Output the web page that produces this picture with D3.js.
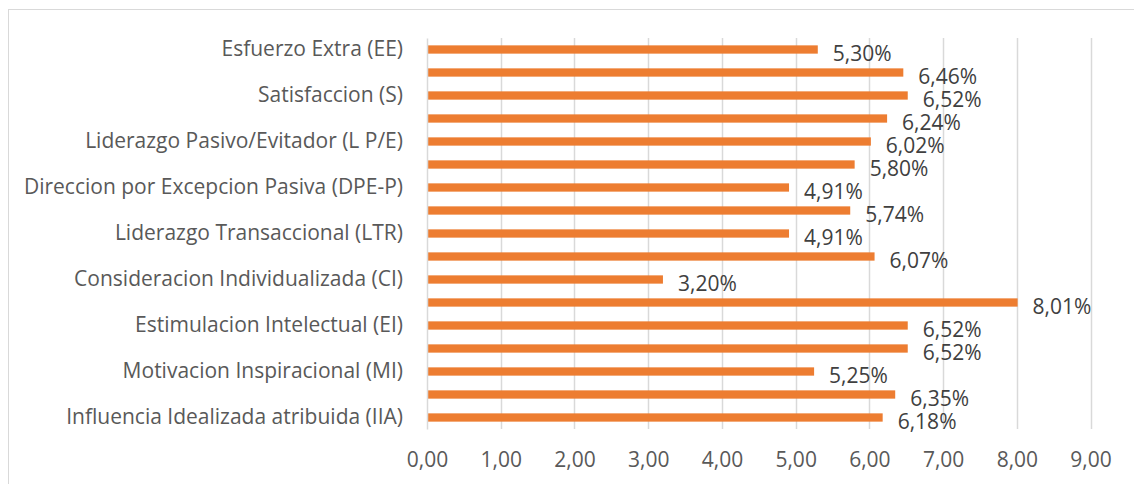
<!DOCTYPE html>
<html>
<head>
<meta charset="utf-8">
<script src="https://cdn.jsdelivr.net/npm/d3@7"></script>
<style>
  html, body { margin: 0; padding: 0; background: #fff; }
  svg { display: block; }
</style>
</head>
<body>
<svg id="chart" width="1134" height="484"></svg>
<script>
// Dimensiones del cuestionario, de arriba hacia abajo
const categories = [
  "Esfuerzo Extra (EE)",
  "Efectividad (EF)",
  "Satisfaccion (S)",
  "Laissez Faire (LF)",
  "Liderazgo Pasivo/Evitador (L P/E)",
  "Liderazgo Pasivo (LP)",
  "Direccion por Excepcion Pasiva (DPE-P)",
  "Direccion por Excepcion Activa (DPE-A)",
  "Liderazgo Transaccional (LTR)",
  "Recompensa Contingente (RC)",
  "Consideracion Individualizada (CI)",
  "Liderazgo Transformacional (LTF)",
  "Estimulacion Intelectual (EI)",
  "Tolerancia Psicologica (TP)",
  "Motivacion Inspiracional (MI)",
  "Influencia Idealizada conducta (IIC)",
  "Influencia Idealizada atribuida (IIA)"
];
const values = [5.30, 6.46, 6.52, 6.24, 6.02, 5.80, 4.91, 5.74, 4.91, 6.07, 3.20, 8.01, 6.52, 6.52, 5.25, 6.35, 6.18];
const xTicks = [0, 1, 2, 3, 4, 5, 6, 7, 8, 9];

const locale = d3.formatLocale({ decimal: ",", thousands: ".", grouping: [3], currency: ["", "€"] });
const fmtTick = locale.format(".2f");
const fmtValue = d => locale.format(".2f")(d) + "%";

const svg = d3.select("#chart");
const font = "'Open Sans', 'Noto Sans', sans-serif";
const fontSize = "21px";

// marco del gráfico
svg.append("rect")
  .attr("x", 8.5).attr("y", 9.5)
  .attr("width", 1200).attr("height", 600)
  .attr("fill", "#fff").attr("stroke", "#d9d9d9").attr("stroke-width", 1);

const plot = { left: 427, right: 1090.6, top: 38, bottom: 429 };

const x = d3.scaleLinear().domain([0, 9]).range([plot.left, plot.right]);
const y = d3.scaleBand().domain(categories).range([plot.top, plot.bottom]).paddingInner(0.64).paddingOuter(0.32);

// líneas de cuadrícula verticales
svg.append("g")
  .selectAll("line")
  .data(xTicks.filter(d => d > 0))
  .join("line")
  .attr("x1", d => Math.round(x(d)) + 0.5).attr("x2", d => Math.round(x(d)) + 0.5)
  .attr("y1", plot.top).attr("y2", plot.bottom)
  .attr("stroke", "#d9d9d9").attr("stroke-width", 1.5);

// eje horizontal (solo etiquetas)
const xAxis = svg.append("g")
  .attr("transform", `translate(0,${plot.bottom})`)
  .call(d3.axisBottom(x).tickValues(xTicks).tickFormat(fmtTick).tickSize(0).tickPadding(23));
xAxis.select(".domain").remove();
xAxis.selectAll("text")
  .attr("fill", "#595959")
  .style("font-family", font).style("font-size", fontSize);

// barras
svg.append("g")
  .selectAll("rect")
  .data(values)
  .join("rect")
  .attr("x", x(0))
  .attr("y", (d, i) => y(categories[i]))
  .attr("width", d => x(d) - x(0))
  .attr("height", y.bandwidth())
  .attr("fill", "#ED7D31");

// eje vertical: se rotula una categoría de cada dos
const yAxis = svg.append("g")
  .attr("transform", `translate(${plot.left},0)`)
  .call(d3.axisLeft(y).tickSize(0).tickPadding(24)
    .tickFormat((d, i) => i % 2 === 0 ? d : ""));
yAxis.select(".domain")
  .attr("stroke", "#d9d9d9").attr("stroke-width", 1.5);
yAxis.selectAll("text")
  .attr("fill", "#595959")
  .style("font-family", font).style("font-size", fontSize);

// etiquetas de valor
svg.append("g")
  .selectAll("text")
  .data(values)
  .join("text")
  .attr("x", d => x(d) + 15)
  .attr("y", (d, i) => y(categories[i]) + y.bandwidth() / 2 + 4)
  .attr("dy", "0.35em")
  .attr("fill", "#404040")
  .style("font-family", font).style("font-size", fontSize)
  .text(d => fmtValue(d));
</script>
</body>
</html>
